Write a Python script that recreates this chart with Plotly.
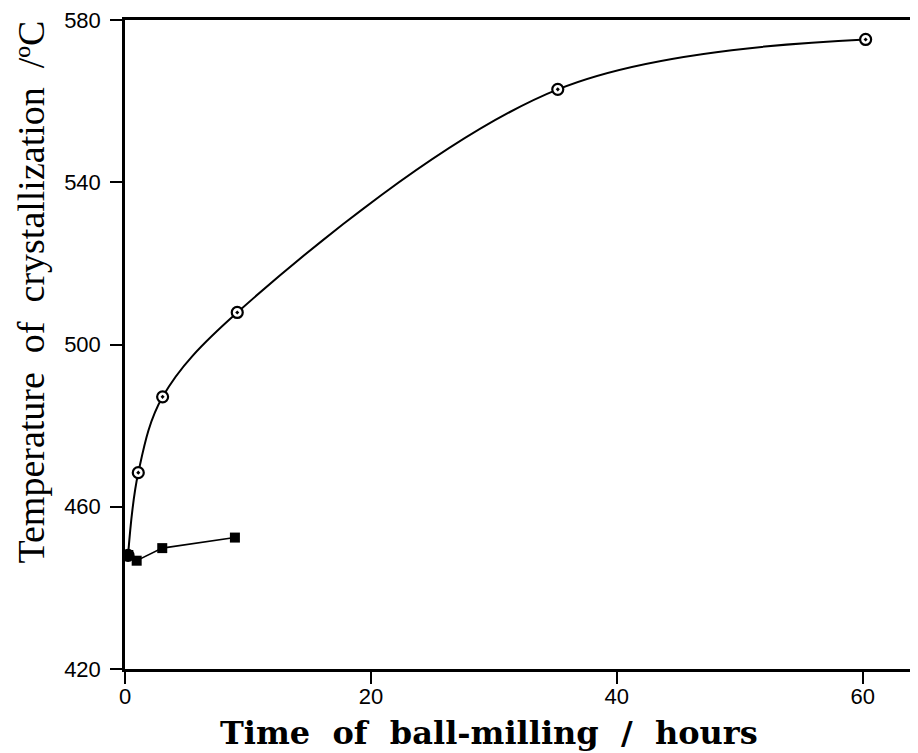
import plotly.graph_objects as go

# Data
circle_x = [0.25, 1.08, 3.06, 9.13, 35.2, 60.24]
circle_y = [448.0, 468.4, 487.1, 507.9, 562.9, 575.2]

square_x = [0.27, 0.95, 3.03, 8.94]
square_y = [448.1, 446.7, 449.8, 452.4]

x_ticks = [0, 20, 40, 60]
y_ticks = [420, 460, 500, 540, 580]

x_title = "Time  of  ball-milling  /  hours"
y_title = "Temperature  of  crystallization  /ºC"

fig = go.Figure()

fig.add_trace(go.Scatter(
    x=circle_x, y=circle_y, mode="lines+markers",
    line=dict(color="black", width=2, shape="spline", smoothing=1.0),
    marker=dict(symbol="circle-dot", size=11, color="white",
                line=dict(color="black", width=2.2)),
    showlegend=False,
))

fig.add_trace(go.Scatter(
    x=square_x, y=square_y, mode="lines+markers",
    line=dict(color="black", width=1.6),
    marker=dict(symbol="square", size=10, color="black",
                line=dict(color="black", width=0)),
    showlegend=False,
))

tick_font = dict(family="Liberation Sans", size=22, color="black")

# page body has an 8px margin, so the figure is sized to fit the window
fig.update_layout(
    width=910, height=745,
    margin=dict(l=117, r=0, t=12, b=84, autoexpand=False),
    paper_bgcolor="white", plot_bgcolor="white",
    xaxis=dict(
        range=[0, 64.5], tickvals=x_ticks, ticktext=[str(v) for v in x_ticks],
        showgrid=False, zeroline=False, automargin=False,
        showline=True, linecolor="black", linewidth=2.5, mirror=True,
        ticks="outside", ticklen=12, tickwidth=1.5, tickcolor="black",
        tickfont=tick_font, ticklabelstandoff=-6, ticklabeloverflow="allow",
    ),
    yaxis=dict(
        range=[420, 580], tickvals=y_ticks, ticktext=[str(v) for v in y_ticks],
        showgrid=False, zeroline=False, automargin=False,
        showline=True, linecolor="black", linewidth=2.5, mirror=False,
        ticks="outside", ticklen=12, tickwidth=1.5, tickcolor="black",
        tickfont=tick_font, ticklabelstandoff=5, ticklabeloverflow="allow",
    ),
    annotations=[
        dict(text=x_title, xref="paper", yref="paper", x=0.459, y=0,
             xanchor="center", yanchor="middle", yshift=-64, showarrow=False,
             font=dict(family="DejaVu Serif", size=32, color="black",
                       weight="bold")),
        dict(text=y_title, xref="paper", yref="paper", x=0, y=0.58,
             xanchor="center", yanchor="middle", xshift=-94, showarrow=False,
             textangle=-90,
             font=dict(family="Liberation Serif", size=38, color="black")),
    ],
)

fig.write_html("out.html")
